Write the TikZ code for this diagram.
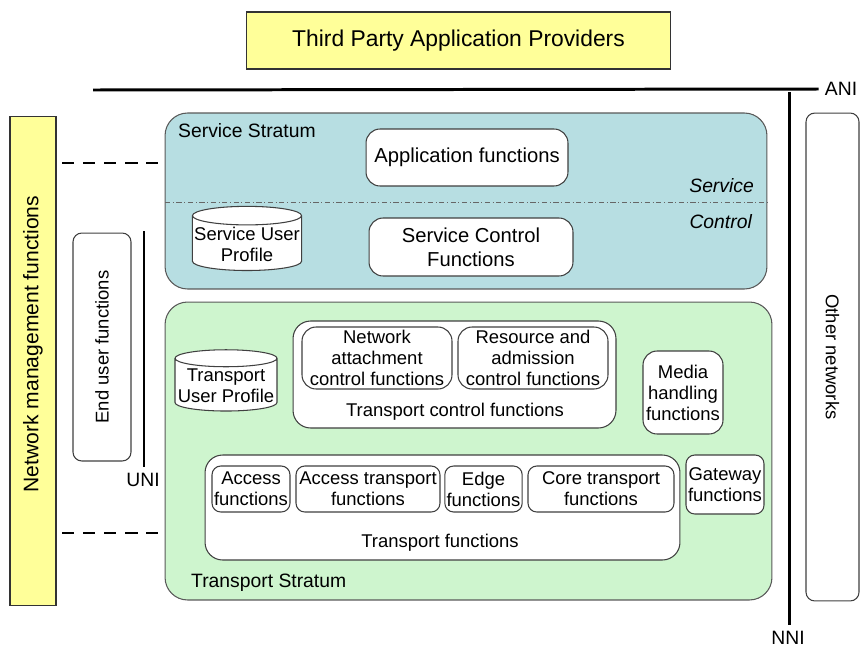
\documentclass[tikz,border=0pt]{standalone}
\usepackage{fontspec}
\setmainfont{Liberation Sans}
\usepackage{xcolor}
\usepackage{tikz}
\usetikzlibrary{shapes.geometric}

\definecolor{giallo}{RGB}{255,255,153}
\definecolor{servizio}{RGB}{183,222,226}
\definecolor{trasporto}{RGB}{206,245,206}

\begin{document}
\begin{tikzpicture}[x=0.02cm,y=-0.02cm,
  testo/.style={font=\fontsize{10.5}{12}\selectfont},
  giallobox/.style={draw=black!80, fill=giallo, line width=0.6pt, align=center},
  box/.style={draw=black!75, fill=white, rounded corners=5pt, line width=0.6pt, align=center, inner sep=1pt, testo},
  strato/.style={draw=black!65, rounded corners=0.45cm, line width=0.6pt},
  cil/.style={cylinder, shape border rotate=90, aspect=0.17, draw=black!75, fill=white, line width=0.6pt, align=center, inner sep=1pt, testo},
  spessa/.style={line width=1.7pt},
  tratt/.style={line width=1.4pt, dash pattern=on 7pt off 5pt}]

\useasboundingbox (0,0) rectangle (861,646);

% Fornitori terzi
\node[giallobox, minimum width=8.5cm, minimum height=1.14cm, font=\fontsize{13}{15}\selectfont] (tpap) at (458.5,40.5) {Third Party Application Providers};

% Gestione di rete
\node[giallobox, minimum width=0.92cm, minimum height=9.8cm] (nmf) at (33,361) {};
\node[rotate=90, font=\fontsize{12}{14}\selectfont] (nmfl) at (33,344) {Network management functions};
\node[box, rotate=90, minimum width=4.56cm, minimum height=1.16cm] (euf) at (102,347) {End user functions};
\node[box, rotate=-90, minimum width=9.76cm, minimum height=1.06cm] (on) at (832.5,357) {Other networks};

% Strati
\node[strato, fill=servizio, minimum width=12.04cm, minimum height=3.52cm] (ss) at (466,201) {};
\node[strato, fill=trasporto, minimum width=12.14cm, minimum height=5.96cm] (ts) at (468.5,451) {};
\draw[black!60, line width=0.4pt, dash pattern=on 3pt off 1.5pt on 0.5pt off 1.5pt] (165,202) -- (767,202);
\node[anchor=west, font=\fontsize{11}{13}\selectfont] (ssl) at (172,131) {Service Stratum};
\node[anchor=east, font=\fontsize{11}{13}\selectfont\itshape] (serv) at (760,186) {Service};
\node[anchor=east, font=\fontsize{11}{13}\selectfont\itshape] (ctrl) at (758,222) {Control};
\node[anchor=west, font=\fontsize{11}{13}\selectfont] (tsl) at (185,583) {Transport Stratum};

% Strato di servizio
\node[box, rounded corners=8pt, minimum width=4.04cm, minimum height=1.14cm, font=\fontsize{11.5}{13.5}\selectfont] (af) at (467,157.5) {Application functions};
\node[box, rounded corners=8pt, minimum width=4.08cm, minimum height=1.16cm, font=\fontsize{11.5}{13.5}\selectfont] (scf) at (471,247) {Service Control\\Functions};
\node[cil, minimum width=2.16cm, minimum height=1.06cm] (sup) at (247,244.5) {Service User\\Profile};

% Strato di trasporto
\node[cil, minimum width=2.04cm, minimum height=1.08cm] (tup) at (226,386) {Transport\\User Profile};
\node[box, rounded corners=10pt, minimum width=6.46cm, minimum height=2.14cm] (tcf) at (454.5,374.5) {};
\node[testo] (tcfl) at (455,412) {Transport control functions};
\node[box, rounded corners=8pt, minimum width=3cm, minimum height=1.24cm] (nacf) at (377,358) {Network\\attachment\\control functions};
\node[box, rounded corners=8pt, minimum width=3cm, minimum height=1.24cm] (racf) at (533,358) {Resource and\\admission\\control functions};
\node[box, rounded corners=8pt, minimum width=1.6cm, minimum height=1.66cm] (mhf) at (683,392.5) {Media\\handling\\functions};

\node[box, rounded corners=10pt, minimum width=9.5cm, minimum height=2.1cm] (tf) at (442.5,507.5) {};
\node[testo] (tfl) at (440,543) {Transport functions};
\node[box, minimum width=1.56cm, minimum height=0.92cm] (acf) at (251,489) {Access\\functions};
\node[box, minimum width=2.88cm, minimum height=0.92cm] (atf) at (368,489) {Access transport\\functions};
\node[box, minimum width=1.5cm, minimum height=0.92cm] (ef) at (483.5,489) {Edge\\functions};
\node[box, minimum width=2.92cm, minimum height=0.92cm] (ctf) at (601,489) {Core transport\\functions};
\node[box, minimum width=1.56cm, minimum height=1.18cm] (gf) at (725,484.5) {Gateway\\functions};

% Interfacce
\node[font=\fontsize{11}{13}\selectfont] (ani) at (841,89) {ANI};
\node[font=\fontsize{11}{13}\selectfont] (uni) at (143,480) {UNI};
\node[font=\fontsize{11}{13}\selectfont] (nni) at (788,638) {NNI};
\coordinate (anis) at (93,90);
\coordinate (unis) at (144,231);
\coordinate (nnis) at (789,92);
\draw[spessa] (anis) -- (ani.west);
\draw[spessa] (unis) -- (uni.north -| unis);
\draw[spessa] (nnis) -- (nni.north -| nnis);

% Linee tratteggiate
\draw[tratt] (62,163) -- (158,163);
\draw[tratt] (62,533) -- (158,533);

\end{tikzpicture}
\end{document}
